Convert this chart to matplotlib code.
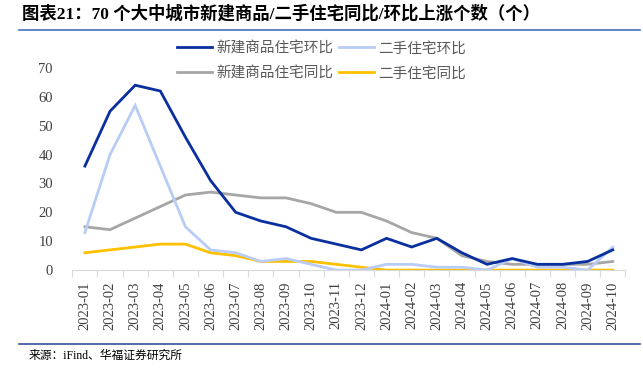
import matplotlib
matplotlib.use('Agg')
import matplotlib.pyplot as plt
from matplotlib.lines import Line2D

plt.rcParams['font.family'] = ['Liberation Serif', 'Noto Sans CJK SC']
plt.rcParams['axes.unicode_minus'] = False

# data
months = ['2023-01', '2023-02', '2023-03', '2023-04', '2023-05', '2023-06',
          '2023-07', '2023-08', '2023-09', '2023-10', '2023-11', '2023-12',
          '2024-01', '2024-02', '2024-03', '2024-04', '2024-05', '2024-06',
          '2024-07', '2024-08', '2024-09', '2024-10']
new_mom = [36, 55, 64, 62, 46, 31, 20, 17, 15, 11, 9, 7, 11, 8, 11, 6, 2, 4, 2, 2, 3, 7]
second_mom = [13, 40, 57, 36, 15, 7, 6, 3, 4, 2, 0, 0, 2, 2, 1, 1, 0, 4, 1, 1, 0, 8]
new_yoy = [15, 14, 18, 22, 26, 27, 26, 25, 25, 23, 20, 20, 17, 13, 11, 5, 3, 2, 2, 2, 2, 3]
second_yoy = [6, 7, 8, 9, 9, 6, 5, 3, 3, 3, 2, 1, 0, 0, 0, 0, 0, 0, 0, 0, 0, 0]

labels = ['新建商品住宅环比', '二手住宅环比', '新建商品住宅同比', '二手住宅同比']
colors = ['#0A2F9E', '#B8CCF5', '#A6A6A6', '#FFC000']

fig = plt.figure(figsize=(6.43, 3.69), dpi=100)
ax = fig.add_axes([0.1125, 0.268, 0.86, 0.548])

x = list(range(len(months)))
series = [new_mom, second_mom, new_yoy, second_yoy]
# draw grey first so it sits under the blue ones
order = [2, 3, 1, 0]
for i in order:
    ax.plot(x, series[i], color=colors[i], lw=2.0, solid_joinstyle='miter', zorder=3 + order.index(i))

ax.set_xlim(-0.5, len(months) - 0.5)
ax.set_ylim(0, 70)
ax.set_yticks(range(0, 71, 10))
ax.set_xticks([i - 0.5 for i in range(len(months) + 1)])
ax.set_xticklabels([])
ax.set_xticks(x, minor=True)
ax.set_xticklabels(months, minor=True, rotation=90, fontsize=10.5, color='#404040')
ax.tick_params(axis='x', which='major', length=5, color='#D9D9D9', width=0.8)
ax.tick_params(axis='x', which='minor', length=0, pad=8)
ax.tick_params(axis='y', length=0, labelsize=10.5, labelcolor='#404040', pad=14)

for s in ['top', 'right', 'left']:
    ax.spines[s].set_visible(False)
ax.spines['bottom'].set_color('#D9D9D9')
ax.spines['bottom'].set_linewidth(0.8)

handles = [Line2D([], [], color=c, lw=2.0) for c in colors]
# ncol=2 fills by column
hs = [handles[0], handles[2], handles[1], handles[3]]
ls = [labels[0], labels[2], labels[1], labels[3]]
fig.legend(hs, ls, ncol=2, loc='center', bbox_to_anchor=(0.5, 0.835), frameon=False,
           prop={'family': ['Noto Sans CJK SC'], 'size': 10.5}, labelcolor='#595959',
           handlelength=2.4, handletextpad=0.3, columnspacing=0.4, labelspacing=0.75)

fig.text(0.034, 0.962, '图表21：70 个大中城市新建商品/二手住宅同比/环比上涨个数（个）',
         fontsize=12.5, fontweight='bold', va='center', ha='left', color='black')
fig.add_artist(Line2D([0.03, 0.995], [0.918, 0.918], color='#4472C4', lw=1.2))
fig.add_artist(Line2D([0.03, 0.995], [0.068, 0.068], color='#2F5597', lw=1.2))
fig.text(0.044, 0.037, '来源：iFind、华福证券研究所', fontsize=8.5, va='center', ha='left')

fig.savefig('out.png', dpi=100)
